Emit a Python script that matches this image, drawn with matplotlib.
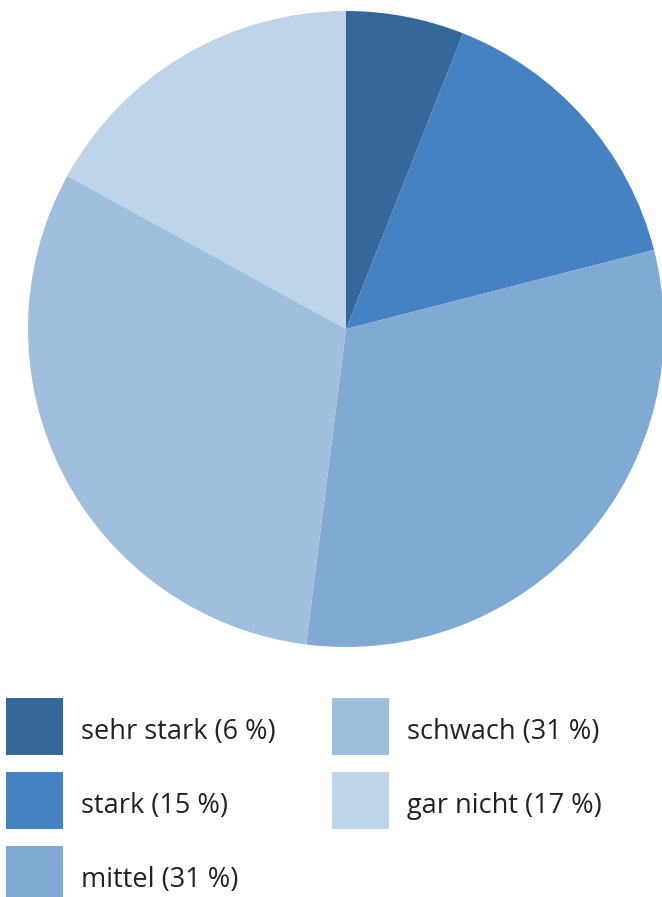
import matplotlib
matplotlib.use("Agg")
import matplotlib.pyplot as plt
from matplotlib.patches import Rectangle

# Daten
labels = ["sehr stark", "stark", "mittel", "schwach", "gar nicht"]
values = [6, 15, 31, 31, 17]
colors = ["#35679a", "#4682c3", "#80aad4", "#a0bede", "#bed4e9"]

W, H = 662, 897
fig = plt.figure(figsize=(W / 100, H / 100), dpi=100)
ax = fig.add_axes([0, 0, 1, 1])

# Kreisdiagramm (Pixelkoordinaten, y von unten)
ax.pie(values, colors=colors, startangle=90, counterclock=False,
       center=(346, H - 329), radius=318, frame=True,
       wedgeprops=dict(linewidth=0))
ax.set_xlim(0, W)
ax.set_ylim(0, H)
ax.set_aspect("equal")
ax.axis("off")

# Legende: zwei Spalten, drei Zeilen
col_x = [6, 332]
row_y = [698, 772, 846]
box = 57
for i, (lab, val, col) in enumerate(zip(labels, values, colors)):
    c, r = divmod(i, 3)
    x0, y0 = col_x[c], row_y[r]
    ax.add_patch(Rectangle((x0, H - y0 - box), box, box, facecolor=col,
                           edgecolor="none", clip_on=False))
    ax.text(x0 + 75, H - y0 - box / 2 - 5, f"{lab} ({val} %)",
            fontsize=19.5, family="Open Sans", color="#222222",
            va="center", ha="left")

fig.savefig("out.png", dpi=100)
